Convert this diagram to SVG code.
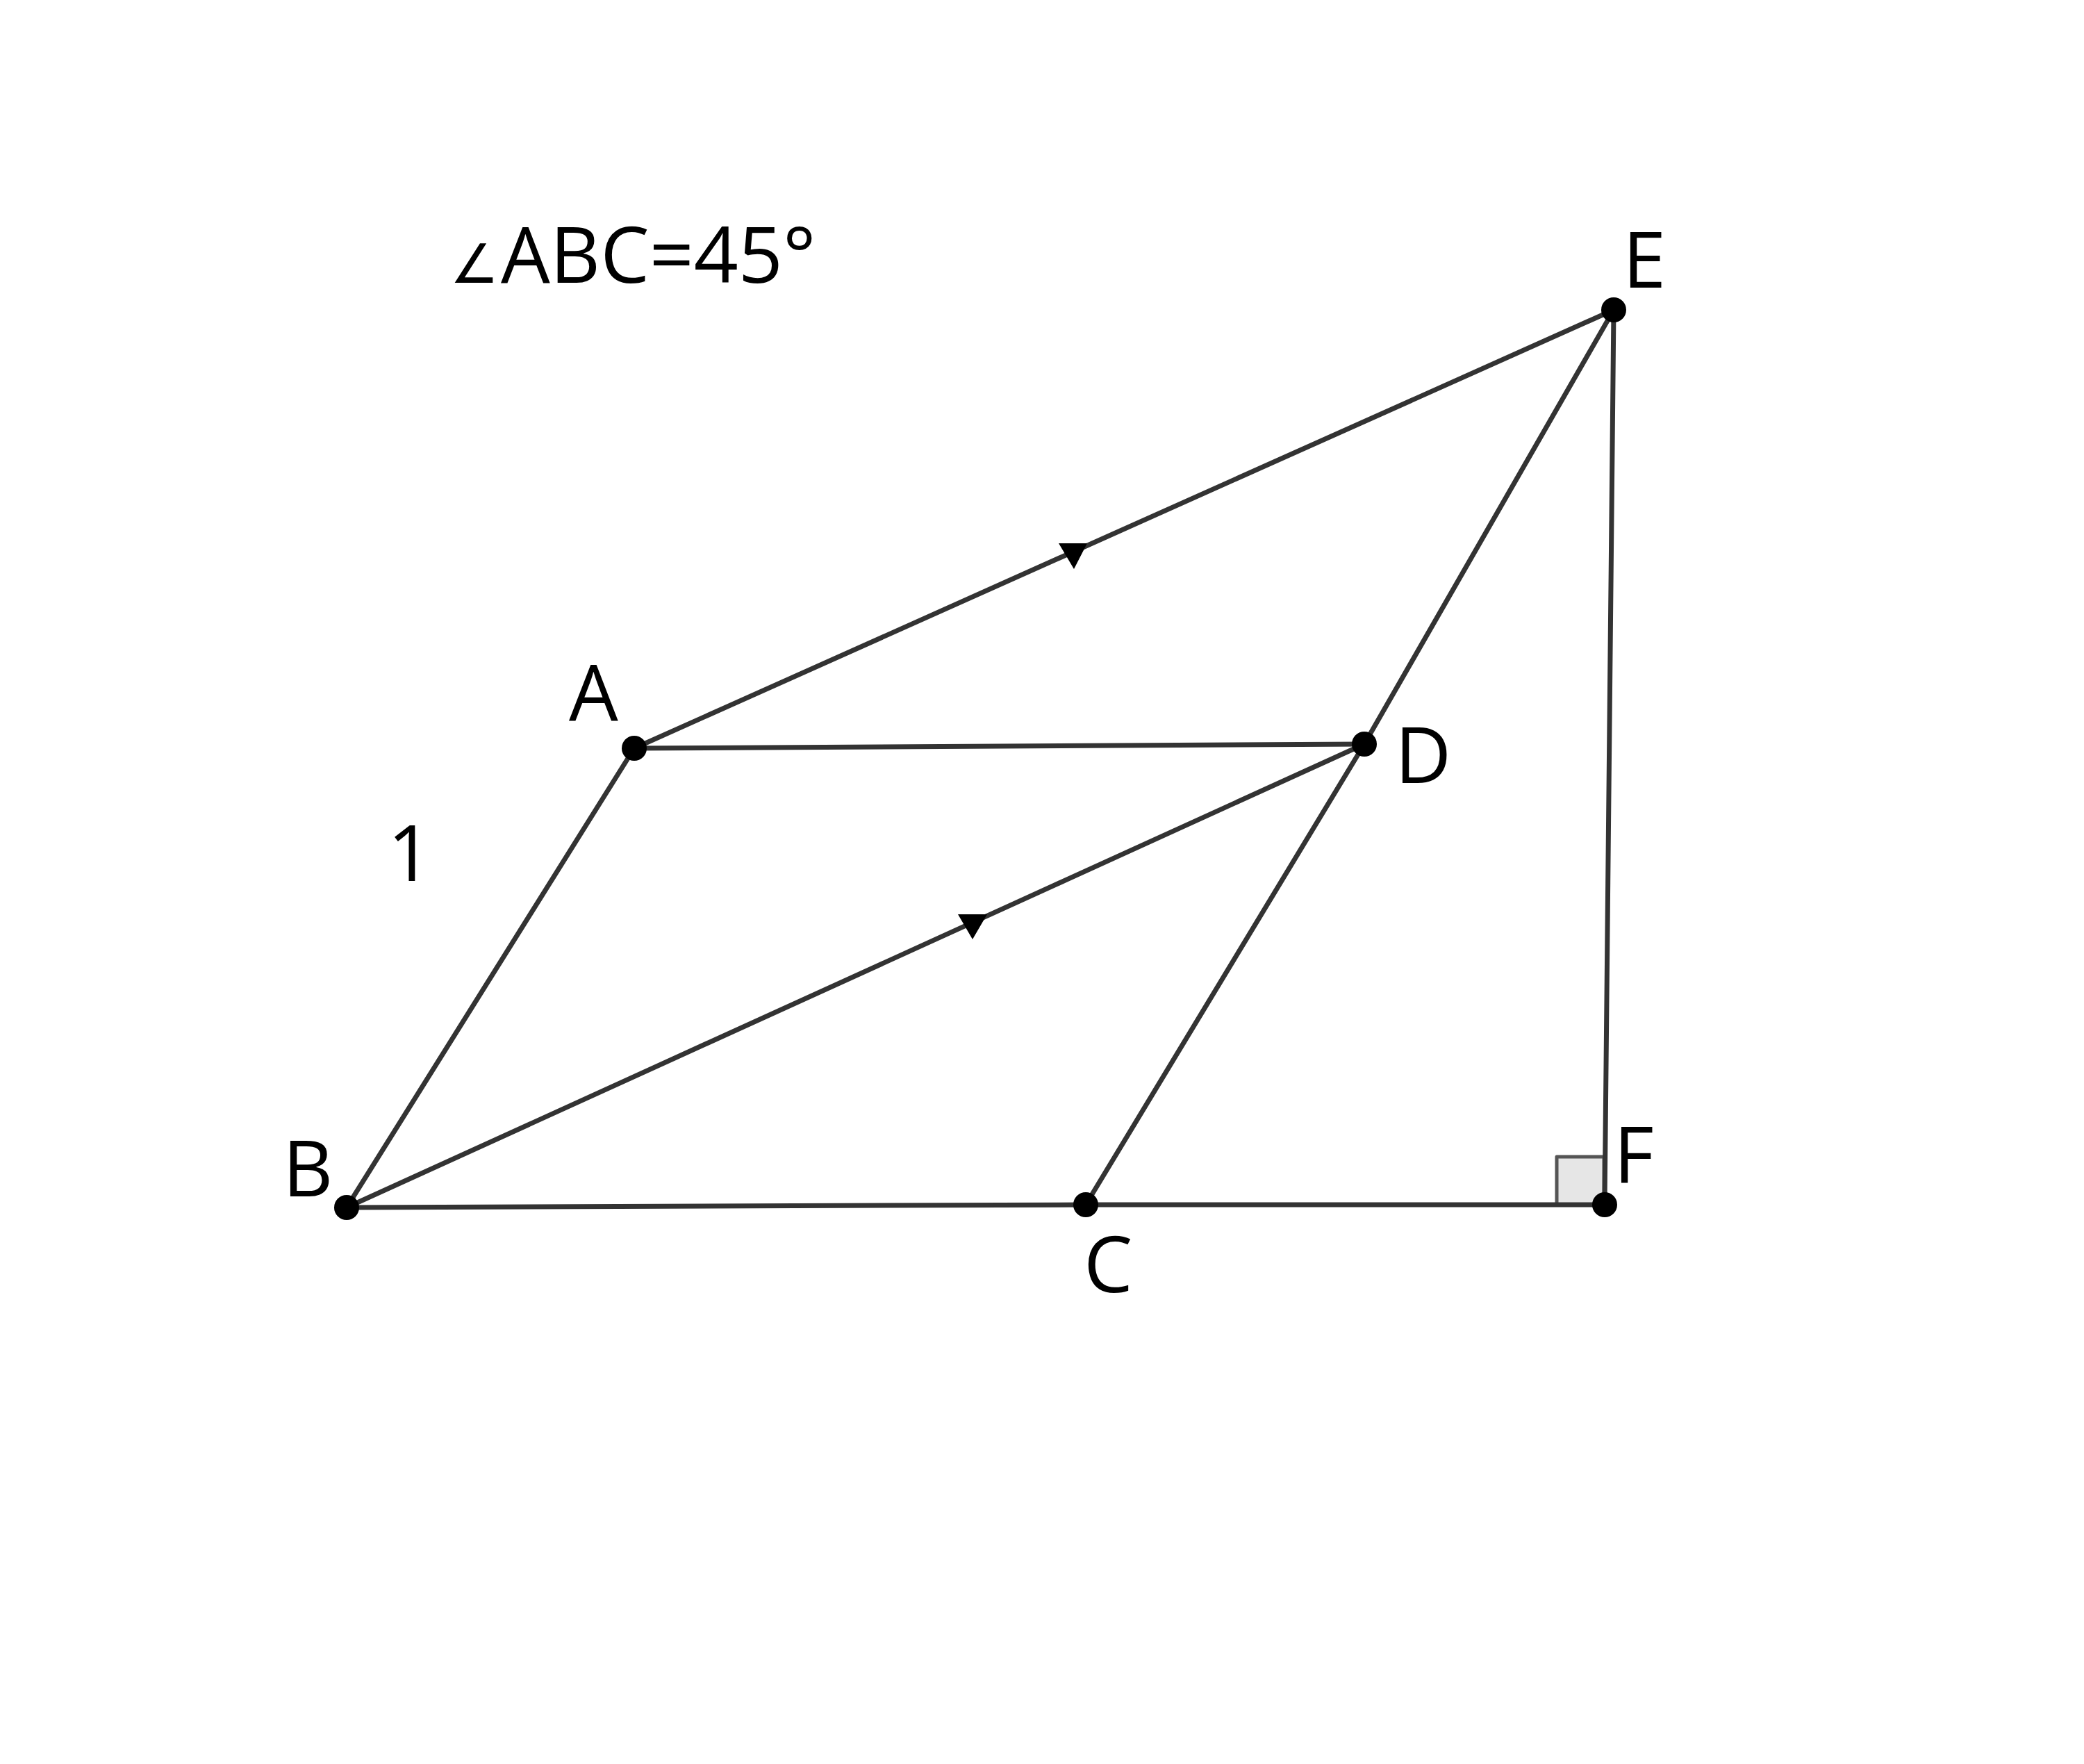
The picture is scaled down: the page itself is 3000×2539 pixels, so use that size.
<svg xmlns="http://www.w3.org/2000/svg" width="3000" height="2539" viewBox="0 0 3000 2539">
<style>
.seg{stroke:#333333;stroke-width:7;stroke-linecap:round;fill:none}
.pt{fill:#000000}
.lbl{font-family:"Open Sans","Liberation Sans","DejaVu Sans",sans-serif;font-size:112px;fill:#000000}
</style>
<rect width="3000" height="2539" fill="#ffffff"/>
<g id="right-angle">
<rect x="2241" y="1665" width="68" height="69" fill="#e6e6e6" stroke="#555555" stroke-width="5" stroke-linejoin="round"/>
</g>
<g id="connectors">
<line class="seg" x1="913" y1="1077" x2="499" y2="1738"/>
<line class="seg" x1="913" y1="1077" x2="1964" y2="1071"/>
<line class="seg" x1="913" y1="1077" x2="2323" y2="446"/>
<line class="seg" x1="499" y1="1738" x2="1964" y2="1071"/>
<line class="seg" x1="499" y1="1738" x2="1563" y2="1734"/>
<line class="seg" x1="1563" y1="1734" x2="2310" y2="1734"/>
<line class="seg" x1="1563" y1="1734" x2="1964" y2="1071"/>
<line class="seg" x1="1964" y1="1071" x2="2323" y2="446"/>
<line class="seg" x1="2323" y1="446" x2="2310" y2="1734"/>
<polygon points="1524,782 1565,782 1546,819" fill="#000000"/>
<polygon points="1379,1316 1421,1316 1400,1352" fill="#000000"/>
</g>
<g id="node-A"><circle class="pt" cx="913" cy="1077" r="18"/><text class="lbl" x="819" y="1037">A</text></g>
<g id="node-B"><circle class="pt" cx="499" cy="1738" r="18"/><text class="lbl" x="407" y="1722">B</text></g>
<g id="node-C"><circle class="pt" cx="1563" cy="1734" r="18"/><text class="lbl" x="1560" y="1860">C</text></g>
<g id="node-D"><circle class="pt" cx="1964" cy="1071" r="18"/><text class="lbl" x="2008" y="1127">D</text></g>
<g id="node-E"><circle class="pt" cx="2323" cy="446" r="18"/><text class="lbl" x="2336" y="414">E</text></g>
<g id="node-F"><circle class="pt" cx="2310" cy="1734" r="18"/><text class="lbl" x="2323" y="1702">F</text></g>
<g id="labels">
<text class="lbl" x="590" y="1268" text-anchor="middle">1</text>
<text class="lbl" y="407"><tspan x="648" font-size="78" font-family="'DejaVu Sans',sans-serif">∠</tspan><tspan x="721">ABC=45°</tspan></text>
</g>
</svg>
